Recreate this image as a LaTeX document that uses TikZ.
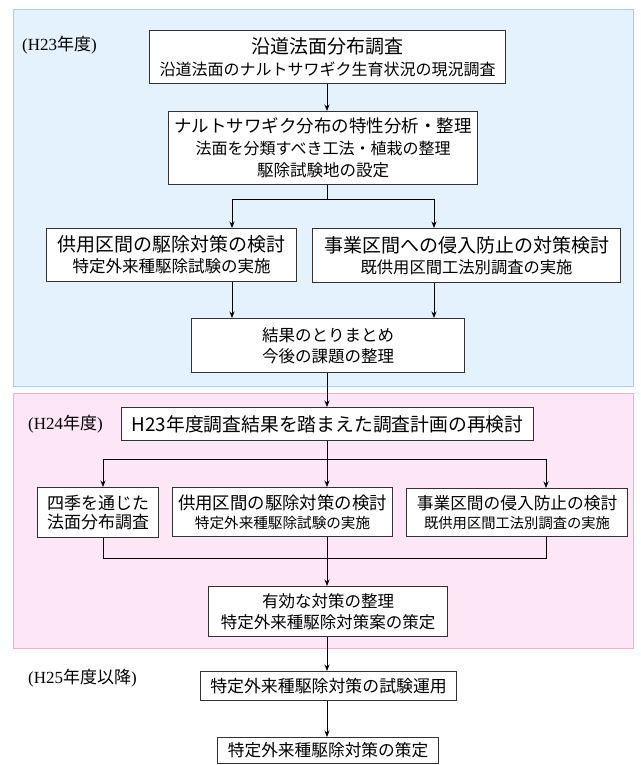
\documentclass[tikz,border=0pt]{standalone}
\usepackage{fontspec}
\setmainfont{Noto Sans CJK JP}
\newfontfamily\ser{Liberation Serif}
\usetikzlibrary{arrows.meta}
\definecolor{bluefill}{RGB}{228,242,253}
\definecolor{blueline}{RGB}{165,208,245}
\definecolor{pinkfill}{RGB}{253,230,246}
\definecolor{pinkline}{RGB}{245,170,218}
\definecolor{boxline}{RGB}{50,50,50}
\newcommand\fs[2]{\fontsize{#1}{#2}\selectfont}
\tikzset{
  stepbox/.style={draw=boxline, line width=1.1pt, fill=white, inner sep=0pt, align=center, anchor=north west},
  conn/.style={line width=0.9pt, black},
  arr/.style={conn, -{Stealth[length=6.5pt,width=5pt]}},
  yearlabel/.style={anchor=west, inner sep=0pt, font=\fs{17}{20}},
}
\begin{document}
\begin{tikzpicture}[x=1pt,y=-1pt]
\useasboundingbox (0,0) rectangle (640,765);
\fill[white] (0,0) rectangle (640,765);
% regions
\draw[blueline, fill=bluefill, line width=0.9pt] (13,9) rectangle (633,386);
\draw[pinkline, fill=pinkfill, line width=0.9pt] (13,393) rectangle (633,648);
% year labels
\node[yearlabel] (y23) at (22,45) {{\ser (H23}年度{\ser )}};
\node[yearlabel] (y24) at (28,424) {{\ser (H24}年度{\ser )}};
\node[yearlabel] (y25) at (28,678) {{\ser (H25}年度以降{\ser )}};
% H23 boxes
\node[stepbox, minimum width=356pt, minimum height=53pt, font=\fs{16}{21.5}] (A) at (149,30)
  {{\fs{19}{21.5}沿道法面分布調査}\\{\fs{16}{21.5}沿道法面のナルトサワギク生育状況の現況調査}};
\node[stepbox, minimum width=309pt, minimum height=73pt, font=\fs{16}{22}] (B) at (168,111)
  {{\fs{17.5}{22}ナルトサワギク分布の特性分析・整理}\\{\fs{16}{22}法面を分類すべき工法・植栽の整理}\\{\fs{16.5}{22}駆除試験地の設定}};
\node[stepbox, minimum width=250pt, minimum height=53pt, font=\fs{16.5}{21}] (C) at (46,228)
  {{\fs{19}{21}供用区間の駆除対策の検討}\\{\fs{16.5}{21}特定外来種駆除試験の実施}};
\node[stepbox, minimum width=308pt, minimum height=54pt, font=\fs{16.3}{21}] (D) at (312,228)
  {{\fs{19}{21}事業区間への侵入防止の対策検討}\\{\fs{16.3}{21}既供用区間工法別調査の実施}};
\node[stepbox, minimum width=273pt, minimum height=54pt, font=\fs{16.5}{21.5}] (E) at (191,318)
  {{\fs{16.5}{21.5}結果のとりまとめ}\\{\fs{16.5}{21.5}今後の課題の整理}};
% H24 boxes
\node[stepbox, minimum width=412pt, minimum height=33pt] (F) at (121,407)
  {\fs{18.8}{22}H23年度調査結果を踏まえた調査計画の再検討};
\node[stepbox, minimum width=121pt, minimum height=50pt, font=\fs{17}{19.5}] (G) at (37,487)
  {{\fs{17}{19.5}四季を通じた}\\{\fs{17}{19.5}法面分布調査}};
\node[stepbox, minimum width=220pt, minimum height=49pt, font=\fs{14.6}{19}] (H) at (172,487)
  {{\fs{17.4}{19}供用区間の駆除対策の検討}\\{\fs{14.6}{19}特定外来種駆除試験の実施}};
\node[stepbox, minimum width=221pt, minimum height=48pt, font=\fs{14.3}{19}] (I) at (406,488)
  {{\fs{16.7}{19}事業区間の侵入防止の検討}\\{\fs{14.3}{19}既供用区間工法別調査の実施}};
\node[stepbox, minimum width=239pt, minimum height=50pt, font=\fs{16.5}{20.5}] (J) at (208,586)
  {{\fs{16.5}{20.5}有効な対策の整理}\\{\fs{16.5}{20.5}特定外来種駆除対策案の策定}};
% H25 boxes
\node[stepbox, minimum width=256pt, minimum height=29pt] (K) at (200,671)
  {\fs{16.9}{19}特定外来種駆除対策の試験運用};
\node[stepbox, minimum width=221pt, minimum height=26pt] (L) at (217,737)
  {\fs{16.7}{19}特定外来種駆除対策の策定};
% connectors
\coordinate (bB) at (327,199);
\draw[arr] (A.south -| bB) -- (B.north -| bB);
\draw[conn] (B.south -| bB) -- (bB);
\draw[arr] (bB) -| (232,228) coordinate (cT);
\draw[arr] (bB) -| (434,228) coordinate (dT);
\draw[arr] (C.south -| cT) -- (E.north -| cT);
\draw[arr] (D.south -| dT) -- (E.north -| dT);
\draw[arr] (E.south -| bB) -- (F.north -| bB);
\coordinate (bF) at (327,459);
\draw[conn] (F.south -| bF) -- (bF);
\draw[arr] (bF) -| (103,487) coordinate (gT);
\draw[arr] (bF) -- (H.north -| bF);
\draw[arr] (bF) -| (546,488) coordinate (iT);
\coordinate (mJ) at (327,558);
\draw[conn] (G.south -| gT) |- (mJ);
\draw[conn] (I.south -| iT) |- (mJ);
\draw[conn] (H.south -| mJ) -- (mJ);
\draw[arr] (mJ) -- (J.north -| mJ);
\draw[arr] (J.south -| mJ) -- (K.north -| mJ);
\draw[arr] (K.south -| mJ) -- (L.north -| mJ);
\end{tikzpicture}
\end{document}
